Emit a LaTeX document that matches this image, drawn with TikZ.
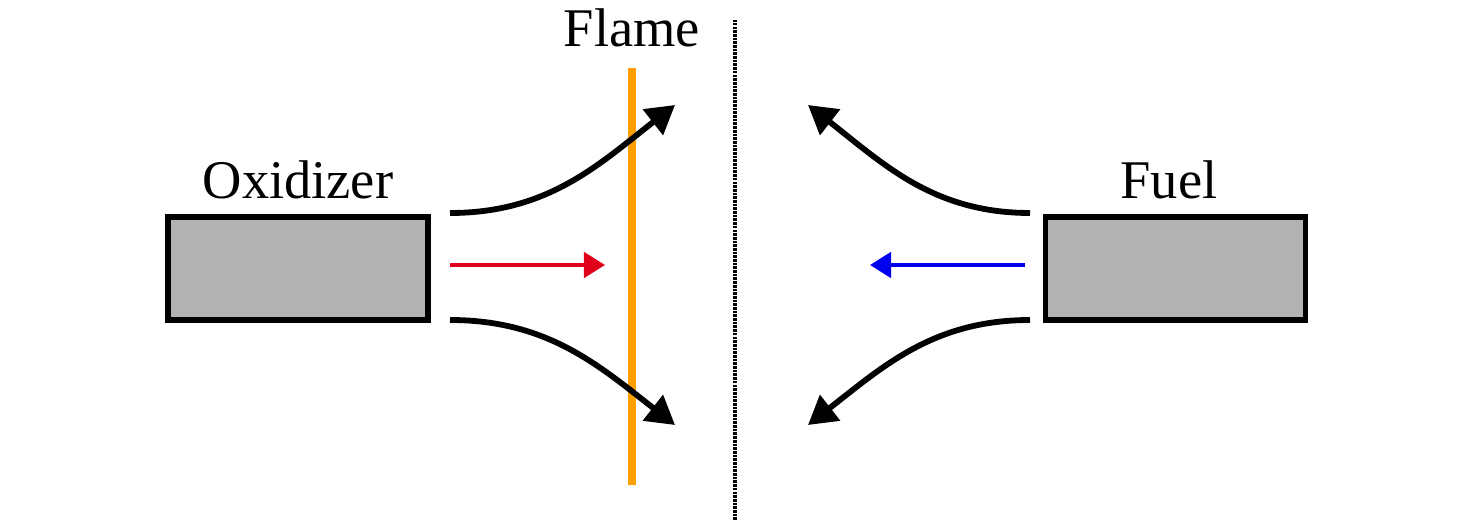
\documentclass[tikz,border=0pt]{standalone}
\usepackage{fontspec}
\setmainfont{Liberation Serif}
\usetikzlibrary{arrows.meta}

\definecolor{flameorange}{RGB}{255,160,0}
\definecolor{oxred}{RGB}{224,0,27}
\definecolor{fuelblue}{RGB}{0,0,240}

\tikzset{
  nozzle/.style={draw=black,line width=3.2pt,fill=black!30,minimum width=5.2cm,minimum height=2.06cm,inner sep=0pt},
  flowlabel/.style={anchor=base,inner sep=0pt,font=\fontsize{31}{36}\selectfont},
  stream/.style={line width=3.3pt,-{Triangle[length=16pt,width=18pt]}},
  jet/.style={line width=2pt,-{Triangle[length=12pt,width=14.5pt]}}
}

\begin{document}
\begin{tikzpicture}

      \useasboundingbox (0,0) rectangle (29.52,10.5);

      % nozzles
      \node[nozzle] (ox) at (5.96,5.13) {};
      \node[nozzle] (fuel) at (23.51,5.13) {};
      \node[flowlabel] (oxlbl) at (5.96,6.52) {Oxidizer};
      \node[flowlabel] (fuellbl) at (23.38,6.52) {Fuel};

      % flame sheet and stagnation plane
      \coordinate (flametop) at (12.64,9.14);
      \coordinate (flamebot) at (12.64,0.8);
      \draw[flameorange,line width=4pt] (flamebot) -- (flametop);
      \node[flowlabel] (flamelbl) at (12.64,9.56) {Flame};
      \coordinate (stagtop) at (14.7,10.1);
      \coordinate (stagbot) at (14.7,0.1);
      \draw[black,line width=2pt,dash pattern=on 1.5pt off 0.6pt] (stagbot) -- (stagtop);

      % oxidizer side
      \coordinate (oxup) at (9.0,6.24);
      \coordinate (oxmid) at (9.0,5.2);
      \coordinate (oxdn) at (9.0,4.1);
      \coordinate (oxupend) at (13.5,8.4);
      \coordinate (oxmidend) at (12.1,5.2);
      \coordinate (oxdnend) at (13.5,2.0);
      \draw[stream] (oxup) to[out=0,in=218] (oxupend);
      \draw[stream] (oxdn) to[out=0,in=142] (oxdnend);
      \draw[jet,oxred] (oxmid) -- (oxmidend);

      % fuel side
      \coordinate (fuup) at (20.6,6.24);
      \coordinate (fumid) at (20.5,5.2);
      \coordinate (fudn) at (20.6,4.1);
      \coordinate (fuupend) at (16.16,8.4);
      \coordinate (fumidend) at (17.4,5.2);
      \coordinate (fudnend) at (16.16,2.0);
      \draw[stream] (fuup) to[out=180,in=-38] (fuupend);
      \draw[stream] (fudn) to[out=180,in=38] (fudnend);
      \draw[jet,fuelblue] (fumid) -- (fumidend);

\end{tikzpicture}
\end{document}
